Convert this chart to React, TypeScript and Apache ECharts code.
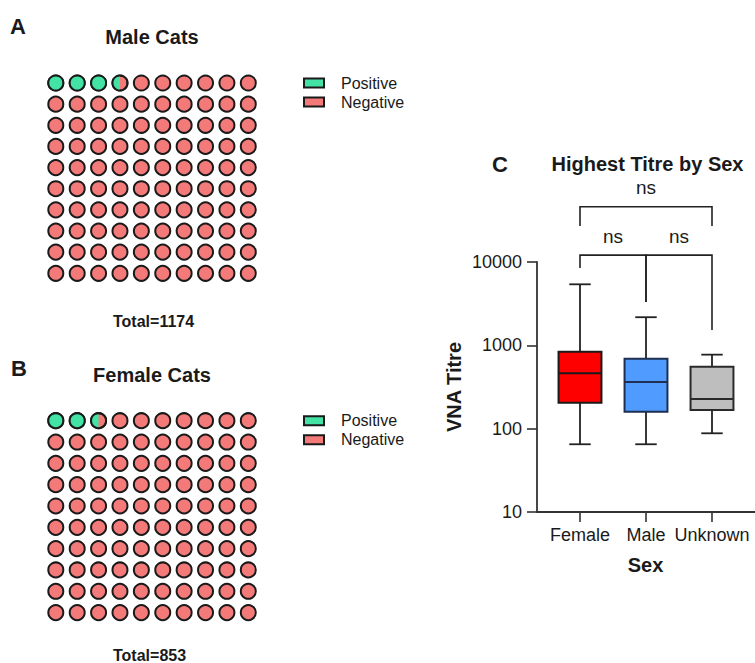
import React, { useEffect, useRef } from "react";
import * as echarts from "echarts";

// ---------- data ----------
const maleTotal = 1174;
const femaleTotal = 853;
const malePositiveCells = 3.5; // % of 100 cells
const femalePositiveCells = 2.5;
const waffleCols = 10;
const waffleRows = 10;
const legendNames = ["Positive", "Negative"];

const sexCategories = ["Female", "Male", "Unknown"];
const whiskerLow = [65, 65, 88];
const quartile1 = [205, 160, 168];
const medians = [463, 364, 227];
const quartile3 = [839, 692, 555];
const whiskerHigh = [5400, 2175, 773];

const bracketFrom = [0, 0, 1];
const bracketTo = [2, 1, 2];
const bracketLevel = [46000, 12100, 12100];
const bracketLegFrom = [27000, 8470, 3310];
const bracketLegTo = [27000, 3310, 1530];
const bracketLabels = ["ns", "ns", "ns"];

// ---------- style ----------
const FONT = "'Liberation Sans', Arial, Helvetica, sans-serif";
const GREEN = "#42E3A4";
const RED = "#F47A7A";
const EDGE = "#1a1a1a";
const AXIS = "#333333";
const TEXT = "#1a1a1a";
const boxFill = ["#FF0000", "#4F9BFF", "#BEBEBE"];
const boxEdge = ["#1A1A1A", "#1F2F52", "#2A2A2A"];

function makeCells(positive: number) {
  const cells: number[][] = [];
  for (let r = 0; r < waffleRows; r++) {
    for (let c = 0; c < waffleCols; c++) {
      const i = r * waffleCols + c;
      const fill = Math.max(0, Math.min(1, positive - i));
      cells.push([c, r, fill]);
    }
  }
  return cells;
}

const R = 7.5;

function negativeRender(params: any, api: any) {
  const p = api.coord([api.value(0), api.value(1)]);
  return {
    type: "circle",
    shape: { cx: p[0], cy: p[1], r: R },
    style: { fill: RED, stroke: EDGE, lineWidth: 2 },
  };
}

function positiveRender(params: any, api: any) {
  const f = api.value(2);
  if (!(f > 0)) return null;
  const p = api.coord([api.value(0), api.value(1)]);
  if (f >= 1) {
    return {
      type: "circle",
      shape: { cx: p[0], cy: p[1], r: R },
      style: { fill: GREEN, stroke: EDGE, lineWidth: 2 },
    };
  }
  const a0 = Math.acos(2 * f - 1);
  const pts: number[][] = [];
  const steps = 30;
  for (let k = 0; k <= steps; k++) {
    const a = a0 + ((2 * Math.PI - 2 * a0) * k) / steps;
    pts.push([p[0] + R * Math.cos(a), p[1] + R * Math.sin(a)]);
  }
  return {
    type: "group",
    children: [
      { type: "polygon", shape: { points: pts }, style: { fill: GREEN } },
      {
        type: "circle",
        shape: { cx: p[0], cy: p[1], r: R },
        style: { fill: "none", stroke: EDGE, lineWidth: 2 },
      },
    ],
  };
}

function boxRender(params: any, api: any) {
  const i = params.dataIndex;
  const x = api.value(0);
  const lo = api.coord([x, api.value(1)]);
  const q1 = api.coord([x, api.value(2)]);
  const md = api.coord([x, api.value(3)]);
  const q3 = api.coord([x, api.value(4)]);
  const hi = api.coord([x, api.value(5)]);
  const bw = api.size([1, 0])[0] * 0.65;
  const cx = lo[0];
  const cap = bw / 4;
  const ls = { stroke: "#222", lineWidth: 1.8 };
  return {
    type: "group",
    children: [
      { type: "line", shape: { x1: cx, y1: q1[1], x2: cx, y2: lo[1] }, style: ls },
      { type: "line", shape: { x1: cx, y1: q3[1], x2: cx, y2: hi[1] }, style: ls },
      { type: "line", shape: { x1: cx - cap, y1: lo[1], x2: cx + cap, y2: lo[1] }, style: ls },
      { type: "line", shape: { x1: cx - cap, y1: hi[1], x2: cx + cap, y2: hi[1] }, style: ls },
      {
        type: "rect",
        shape: { x: cx - bw / 2, y: q3[1], width: bw, height: q1[1] - q3[1] },
        style: { fill: boxFill[i], stroke: boxEdge[i], lineWidth: 2 },
      },
      {
        type: "line",
        shape: { x1: cx - bw / 2, y1: md[1], x2: cx + bw / 2, y2: md[1] },
        style: { stroke: boxEdge[i], lineWidth: 2 },
      },
    ],
  };
}

function bracketRender(params: any, api: any) {
  const i = params.dataIndex;
  const a = api.coord([api.value(0), api.value(2)]);
  const b = api.coord([api.value(1), api.value(2)]);
  const la = api.coord([api.value(0), api.value(3)]);
  const lb = api.coord([api.value(1), api.value(4)]);
  return {
    type: "group",
    children: [
      {
        type: "polyline",
        shape: { points: [[la[0], la[1]], [a[0], a[1]], [b[0], b[1]], [lb[0], lb[1]]] },
        style: { fill: "none", stroke: "#222", lineWidth: 1.6 },
      },
      {
        type: "text",
        x: (a[0] + b[0]) / 2,
        y: a[1] - 19,
        style: {
          text: bracketLabels[i],
          fill: TEXT,
          font: `19px ${FONT}`,
          align: "center",
          verticalAlign: "middle",
        },
      },
    ],
  };
}

function txt(text: string, x: number, y: number, size: number, bold = true, extra: any = {}) {
  return {
    type: "text",
    x,
    y,
    ...extra,
    style: {
      text,
      fill: TEXT,
      font: `${bold ? "bold " : ""}${size}px ${FONT}`,
      align: extra.align || "center",
      verticalAlign: "middle",
    },
  };
}

export default function App() {
  const ref = useRef<HTMLDivElement>(null);
  useEffect(() => {
    if (!ref.current) return;
    const chart = echarts.init(ref.current, undefined, { renderer: "svg" });
    const maleCells = makeCells(malePositiveCells);
    const femaleCells = makeCells(femalePositiveCells);
    const boxData = sexCategories.map((_, i) => [
      i,
      whiskerLow[i],
      quartile1[i],
      medians[i],
      quartile3[i],
      whiskerHigh[i],
    ]);
    const bracketData = bracketFrom.map((f, i) => [
      f,
      bracketTo[i],
      bracketLevel[i],
      bracketLegFrom[i],
      bracketLegTo[i],
    ]);
    const hiddenVal = (inverse = false) => ({
      type: "value",
      min: 0,
      max: 9,
      show: false,
      inverse,
    });
    const legendCommon = {
      orient: "vertical",
      left: 303,
      padding: 0,
      icon: "rect",
      itemWidth: 20,
      itemHeight: 9,
      itemGap: 3,
      selectedMode: false,
      itemStyle: { borderColor: EDGE, borderWidth: 2 },
      textStyle: {
        fontFamily: FONT,
        fontSize: 16,
        color: TEXT,
        lineHeight: 16,
        padding: [0, 0, 0, 12],
      },
      data: [
        { name: legendNames[0], itemStyle: { color: GREEN } },
        { name: legendNames[1], itemStyle: { color: RED } },
      ],
    };
    const option: any = {
      animation: false,
      backgroundColor: "#ffffff",
      textStyle: { fontFamily: FONT },
      legend: [
        { ...legendCommon, top: 75 },
        { ...legendCommon, top: 412.7 },
      ],
      grid: [
        { left: 55.8, right: 755 - 248.3, top: 83, bottom: 663 - 273.3 },
        { left: 55.8, right: 755 - 248.3, top: 420.7, bottom: 663 - 612.6 },
        { left: 547, width: 198, top: 262, bottom: 151 },
        { left: 537, right: 0, top: 262, bottom: 151 },
      ],
      xAxis: [
        { ...hiddenVal(), gridIndex: 0 },
        { ...hiddenVal(), gridIndex: 1 },
        {
          type: "category",
          gridIndex: 2,
          data: sexCategories,
          boundaryGap: true,
          axisLine: { show: false },
          axisTick: {
            show: true,
            alignWithLabel: true,
            length: 10,
            lineStyle: { color: AXIS, width: 1.6 },
          },
          axisLabel: {
            fontSize: 18,
            color: TEXT,
            margin: 14,
            fontFamily: FONT,
            interval: 0,
            hideOverlap: false,
          },
          splitLine: { show: false },
        },
        {
          type: "value",
          gridIndex: 3,
          min: 0,
          max: 1,
          axisLine: { show: true, lineStyle: { color: AXIS, width: 1.8 } },
          axisTick: { show: false },
          axisLabel: { show: false },
          splitLine: { show: false },
        },
      ],
      yAxis: [
        { ...hiddenVal(true), gridIndex: 0 },
        { ...hiddenVal(true), gridIndex: 1 },
        {
          type: "log",
          logBase: 10,
          gridIndex: 2,
          min: 10,
          max: 10000,
          offset: 10,
          axisLine: { show: true, lineStyle: { color: AXIS, width: 1.8 } },
          axisTick: { show: true, length: 10, lineStyle: { color: AXIS, width: 1.6 } },
          axisLabel: {
            fontSize: 18,
            color: TEXT,
            margin: 15,
            fontFamily: FONT,
            formatter: (v: number) => String(Math.round(v)),
          },
          minorTick: { show: false },
          splitLine: { show: false },
        },
        { type: "value", gridIndex: 3, show: false, min: 0, max: 1 },
      ],
      series: [
        {
          type: "custom",
          name: legendNames[1],
          xAxisIndex: 0,
          yAxisIndex: 0,
          data: maleCells,
          itemStyle: { color: RED },
          renderItem: negativeRender,
        },
        {
          type: "custom",
          name: legendNames[0],
          xAxisIndex: 0,
          yAxisIndex: 0,
          data: maleCells,
          itemStyle: { color: GREEN },
          renderItem: positiveRender,
        },
        {
          type: "custom",
          name: legendNames[1],
          xAxisIndex: 1,
          yAxisIndex: 1,
          data: femaleCells,
          itemStyle: { color: RED },
          renderItem: negativeRender,
        },
        {
          type: "custom",
          name: legendNames[0],
          xAxisIndex: 1,
          yAxisIndex: 1,
          data: femaleCells,
          itemStyle: { color: GREEN },
          renderItem: positiveRender,
        },
        {
          type: "custom",
          name: "Highest Titre",
          xAxisIndex: 2,
          yAxisIndex: 2,
          data: boxData,
          encode: { x: 0, y: [1, 2, 3, 4, 5] },
          renderItem: boxRender,
        },
        {
          type: "custom",
          name: "Comparisons",
          xAxisIndex: 2,
          yAxisIndex: 2,
          data: bracketData,
          encode: { x: [0, 1], y: [2] },
          renderItem: bracketRender,
          z: 3,
        },
      ],
      graphic: [
        txt("A", 18, 26, 22),
        txt("Male Cats", 152, 37, 20),
        txt(`Total=${maleTotal}`, 113, 321.5, 16, true, { align: "left" }),
        txt("B", 19, 368, 22),
        txt("Female Cats", 152, 374.5, 20),
        txt(`Total=${femaleTotal}`, 113, 655, 16, true, { align: "left" }),
        txt("C", 500, 164, 22),
        txt("Highest Titre by Sex", 647.5, 164, 20),
        txt("VNA Titre", 453.5, 387, 20, true, { rotation: Math.PI / 2 }),
        txt("Sex", 645.5, 565, 20),
      ],
    };
    chart.setOption(option);
    return () => chart.dispose();
  }, []);
  return (
    <div
      ref={ref}
      style={{ position: "absolute", left: 0, top: 0, width: 755, height: 663 }}
    />
  );
}
